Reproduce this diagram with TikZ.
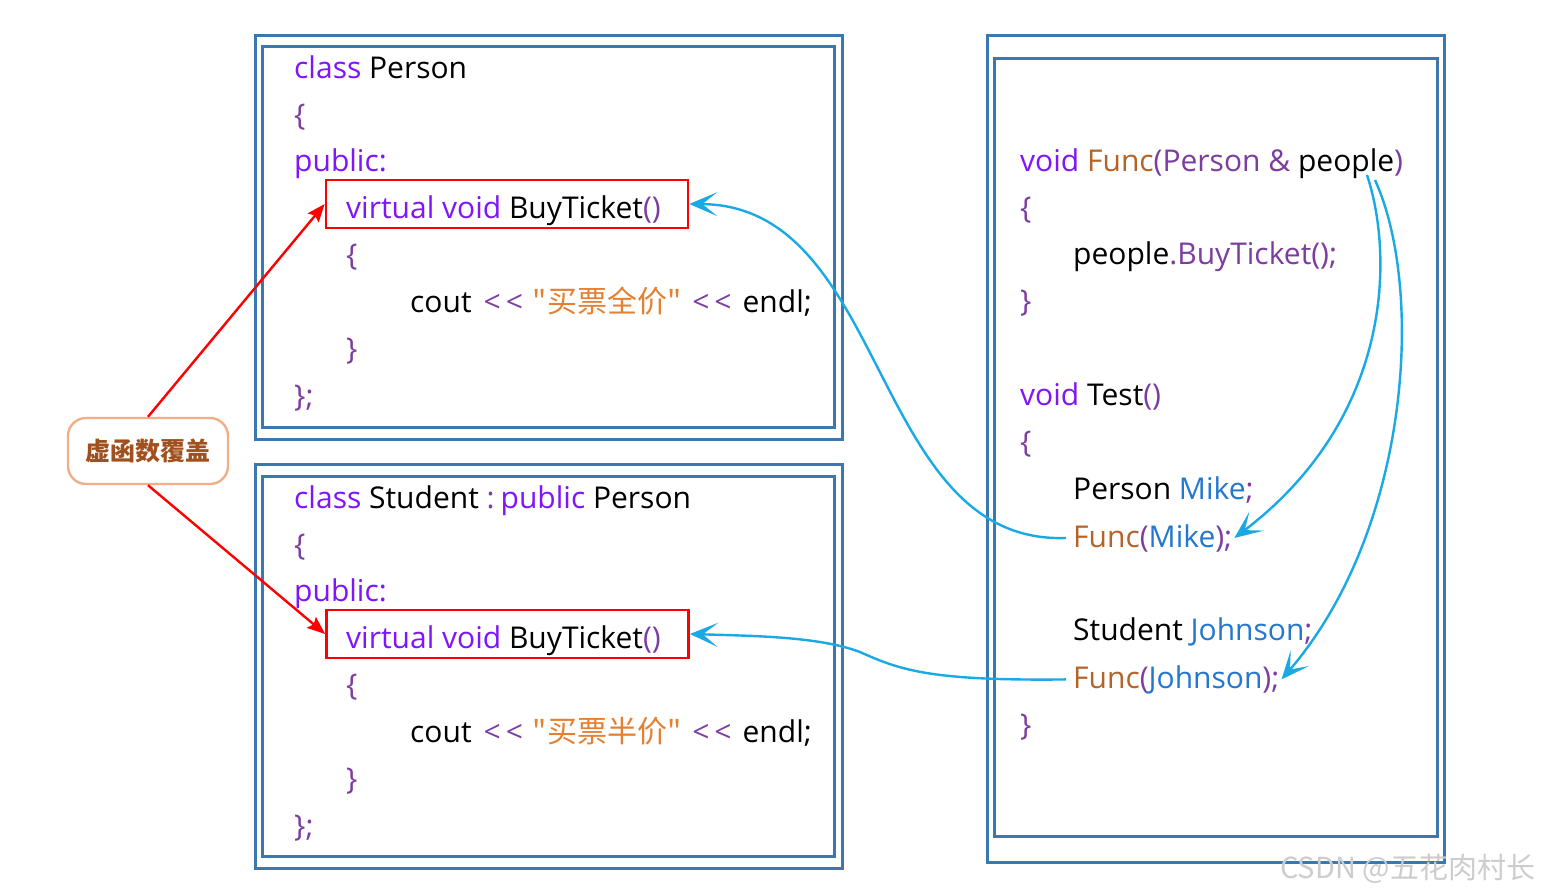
\documentclass[tikz,border=0pt]{standalone}
\usepackage{fontspec}
\setmainfont{Open Sans}
\newfontfamily\cjk{Noto Sans CJK SC}
\usetikzlibrary{arrows.meta}
\definecolor{kw}{RGB}{128,20,250}
\definecolor{br}{RGB}{125,60,160}
\definecolor{st}{RGB}{228,128,50}
\definecolor{fn}{RGB}{180,100,40}
\definecolor{vr}{RGB}{35,120,205}
\definecolor{framec}{RGB}{58,120,175}
\definecolor{arrc}{RGB}{25,170,230}
\definecolor{lblborder}{RGB}{242,175,135}
\definecolor{lbltext}{RGB}{160,80,30}
\definecolor{wm}{RGB}{205,205,205}
\newcommand\codesize{\fontsize{30}{34}\selectfont}
\newcommand\gp[1]{\hspace{#1pt}}
\begin{document}
\begin{tikzpicture}[x=1pt,y=-1pt,
  code/.style={anchor=base west,inner sep=0pt,font=\codesize},
  frame/.style={draw=framec,line width=3pt},
  redbox/.style={draw=red,line width=2.6pt,minimum width=362pt,minimum height=48pt,inner sep=0pt},
  redarrow/.style={draw=red,line width=2.4pt,-{Stealth[length=18pt,width=14pt,inset=3pt]}},
  bluearrow/.style={draw=arrc,line width=2.4pt,-{Stealth[length=28pt,width=24pt,inset=15pt]}},
  lbl/.style={draw=lblborder,line width=2.4pt,rounded corners=18pt,minimum width=160pt,minimum height=66pt,text=lbltext,font=\cjk\bfseries\fontsize{25}{28}\selectfont}
]
\useasboundingbox (0,0) rectangle (1542,894);
\fill[white] (0,0) rectangle (1542,894);

% frames
\draw[frame] (255,35) rectangle (842,439);
\draw[frame] (262,46) rectangle (834,427);
\draw[frame] (255,464) rectangle (842,868);
\draw[frame] (262,476) rectangle (834,856);
\draw[frame] (987,35) rectangle (1444,862);
\draw[frame] (994,58) rectangle (1437,836);

% red boxes
\node[redbox] (vt) at (507,204) {};
\node[redbox] (vs) at (507.5,634) {};

% class Person
\node[code] (p1) at (294,78) {\textcolor{kw}{class} Person};
\node[code] (p2) at (294,125) {\textcolor{br}{\{}};
\node[code] (p3) at (294,171) {\textcolor{kw}{public:}};
\node[code] (p4) at (346,218) {\textcolor{kw}{virtual void} BuyTicket\textcolor{br}{()}};
\node[code] (p5) at (346,265) {\textcolor{br}{\{}};
\node[code] (p6) at (410,312) {cout\gp{12}\textcolor{br}{<\,<}\gp{10}\textcolor{st}{\cjk "买票全价"}\gp{11}\textcolor{br}{<\,<}\gp{11}endl;};
\node[code] (p7) at (346,359) {\textcolor{br}{\}}};
\node[code] (p8) at (294,406) {\textcolor{br}{\};}};

% class Student
\node[code] (s1) at (294,508) {\textcolor{kw}{class} Student \textcolor{br}{:}\gp{6}\textcolor{kw}{public} Person};
\node[code] (s2) at (294,555) {\textcolor{br}{\{}};
\node[code] (s3) at (294,601) {\textcolor{kw}{public:}};
\node[code] (s4) at (346,648) {\textcolor{kw}{virtual void} BuyTicket\textcolor{br}{()}};
\node[code] (s5) at (346,695) {\textcolor{br}{\{}};
\node[code] (s6) at (410,742) {cout\gp{12}\textcolor{br}{<\,<}\gp{10}\textcolor{st}{\cjk "买票半价"}\gp{11}\textcolor{br}{<\,<}\gp{11}endl;};
\node[code] (s7) at (346,789) {\textcolor{br}{\}}};
\node[code] (s8) at (294,836) {\textcolor{br}{\};}};

% right box
\node[code] (f1) at (1020,171) {\textcolor{kw}{void} \textcolor{fn}{Func}\textcolor{br}{(Person \&} people\textcolor{br}{)}};
\node[code] (f2) at (1020,218) {\textcolor{br}{\{}};
\node[code] (f3) at (1073,264) {people\textcolor{br}{.BuyTicket();}};
\node[code] (f4) at (1020,311) {\textcolor{br}{\}}};
\node[code] (t1) at (1020,405) {\textcolor{kw}{void} Test\textcolor{br}{()}};
\node[code] (t2) at (1020,452) {\textcolor{br}{\{}};
\node[code] (t3) at (1073,499) {Person \textcolor{vr}{Mike}\textcolor{br}{;}};
\node[code] (fmike) at (1073,547) {\textcolor{fn}{Func}\textcolor{br}{(}\textcolor{vr}{Mike}\textcolor{br}{);}};
\node[code] (t5) at (1073,640) {Student \textcolor{vr}{Johnson}\textcolor{br}{;}};
\node[code] (fjohn) at (1073,688) {\textcolor{fn}{Func}\textcolor{br}{(}\textcolor{vr}{Johnson}\textcolor{br}{);}};
\node[code] (t7) at (1020,735) {\textcolor{br}{\}}};

% label
\node[lbl] (lbl) at (148,451) {虚函数覆盖};

% red arrows
\draw[redarrow] (lbl.north) -- (vt.west);
\draw[redarrow] (lbl.south) -- (vs.west);

% blue arrows
\coordinate (mk) at ([xshift=-7pt]fmike.west);
\coordinate (jn) at ([xshift=-7pt]fjohn.west);
\coordinate (pp1) at (1367,175);
\coordinate (pp2) at (1375,180);
\draw[bluearrow] (mk) .. controls (870,545) and (890,205) .. (vt.east);
\draw[bluearrow] (jn) .. controls (930,681) and (900,670) .. (860,652) .. controls (820,637) and (760,636) .. (vs.east);
\draw[bluearrow] (pp1) .. controls (1395,260) and (1390,420) .. ([xshift=2pt]fmike.east);
\draw[bluearrow] (pp2) .. controls (1425,290) and (1410,530) .. ([xshift=2pt]fjohn.east);

% watermark
\node[anchor=base west,inner sep=0pt,text=wm,font=\cjk\fontsize{29}{32}\selectfont] (wmk) at (1280,878) {CSDN @五花肉村长};
\end{tikzpicture}
\end{document}
